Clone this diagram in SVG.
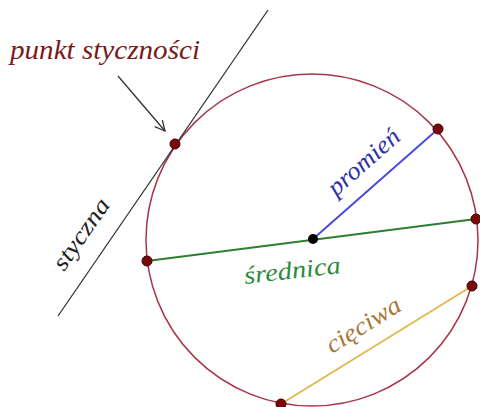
<svg xmlns="http://www.w3.org/2000/svg" width="480" height="407" viewBox="0 0 480 407">
<style>
.lbl{font-family:"Liberation Serif","DejaVu Serif",serif;font-style:italic}
.pt{fill:#7a0a0a;stroke:#3a0000;stroke-width:1}
</style>
<defs>
<marker id="arr" viewBox="0 0 12 12" refX="11" refY="6" markerWidth="12" markerHeight="12" markerUnits="userSpaceOnUse" orient="auto">
<path d="M1,1 L11,6 L1,11" fill="none" stroke="#333" stroke-width="1.3"/>
</marker>
</defs>
<rect width="480" height="407" fill="#fff"/>
<g id="circle">
<circle cx="312" cy="240" r="166" fill="none" stroke="#a8344a" stroke-width="1.5"/>
</g>
<g id="connectors">
<line id="tangent" x1="268" y1="10" x2="58" y2="316" stroke="#333" stroke-width="1.3"/>
<line id="diameter" x1="147" y1="261" x2="476" y2="219" stroke="#2e7d32" stroke-width="2"/>
<line id="radius" x1="313" y1="239" x2="438" y2="129" stroke="#4a4ae0" stroke-width="2"/>
<line id="chord" x1="472" y1="286" x2="281" y2="404" stroke="#e0b84a" stroke-width="1.8"/>
<line id="arrow" x1="118" y1="76" x2="165" y2="131" stroke="#333" stroke-width="1.3" marker-end="url(#arr)"/>
</g>
<g id="points">
<circle class="pt" cx="175" cy="144" r="5"/>
<circle class="pt" cx="438" cy="129" r="5"/>
<circle class="pt" cx="147" cy="261" r="5"/>
<circle class="pt" cx="476" cy="219" r="5"/>
<circle class="pt" cx="472" cy="286" r="5"/>
<circle class="pt" cx="281" cy="404" r="5"/>
<circle cx="313" cy="239" r="5" fill="#000"/>
</g>
<g id="labels">
<text class="lbl" x="10" y="59" font-size="27" fill="#7a1a1a" textLength="190" lengthAdjust="spacingAndGlyphs">punkt styczności</text>
<text class="lbl" transform="translate(64,272) rotate(-55)" font-size="24" fill="#222" textLength="82" lengthAdjust="spacingAndGlyphs">styczna</text>
<text class="lbl" transform="translate(336,197) rotate(-41.4)" font-size="25" fill="#3030a8" textLength="88" lengthAdjust="spacingAndGlyphs">promień</text>
<text class="lbl" transform="translate(245,284) rotate(-6.5)" font-size="25" fill="#2e8b3e" textLength="97" lengthAdjust="spacingAndGlyphs">średnica</text>
<text class="lbl" transform="translate(332,354) rotate(-32)" font-size="25" fill="#a87838" textLength="84" lengthAdjust="spacingAndGlyphs">cięciwa</text>
</g>
</svg>
